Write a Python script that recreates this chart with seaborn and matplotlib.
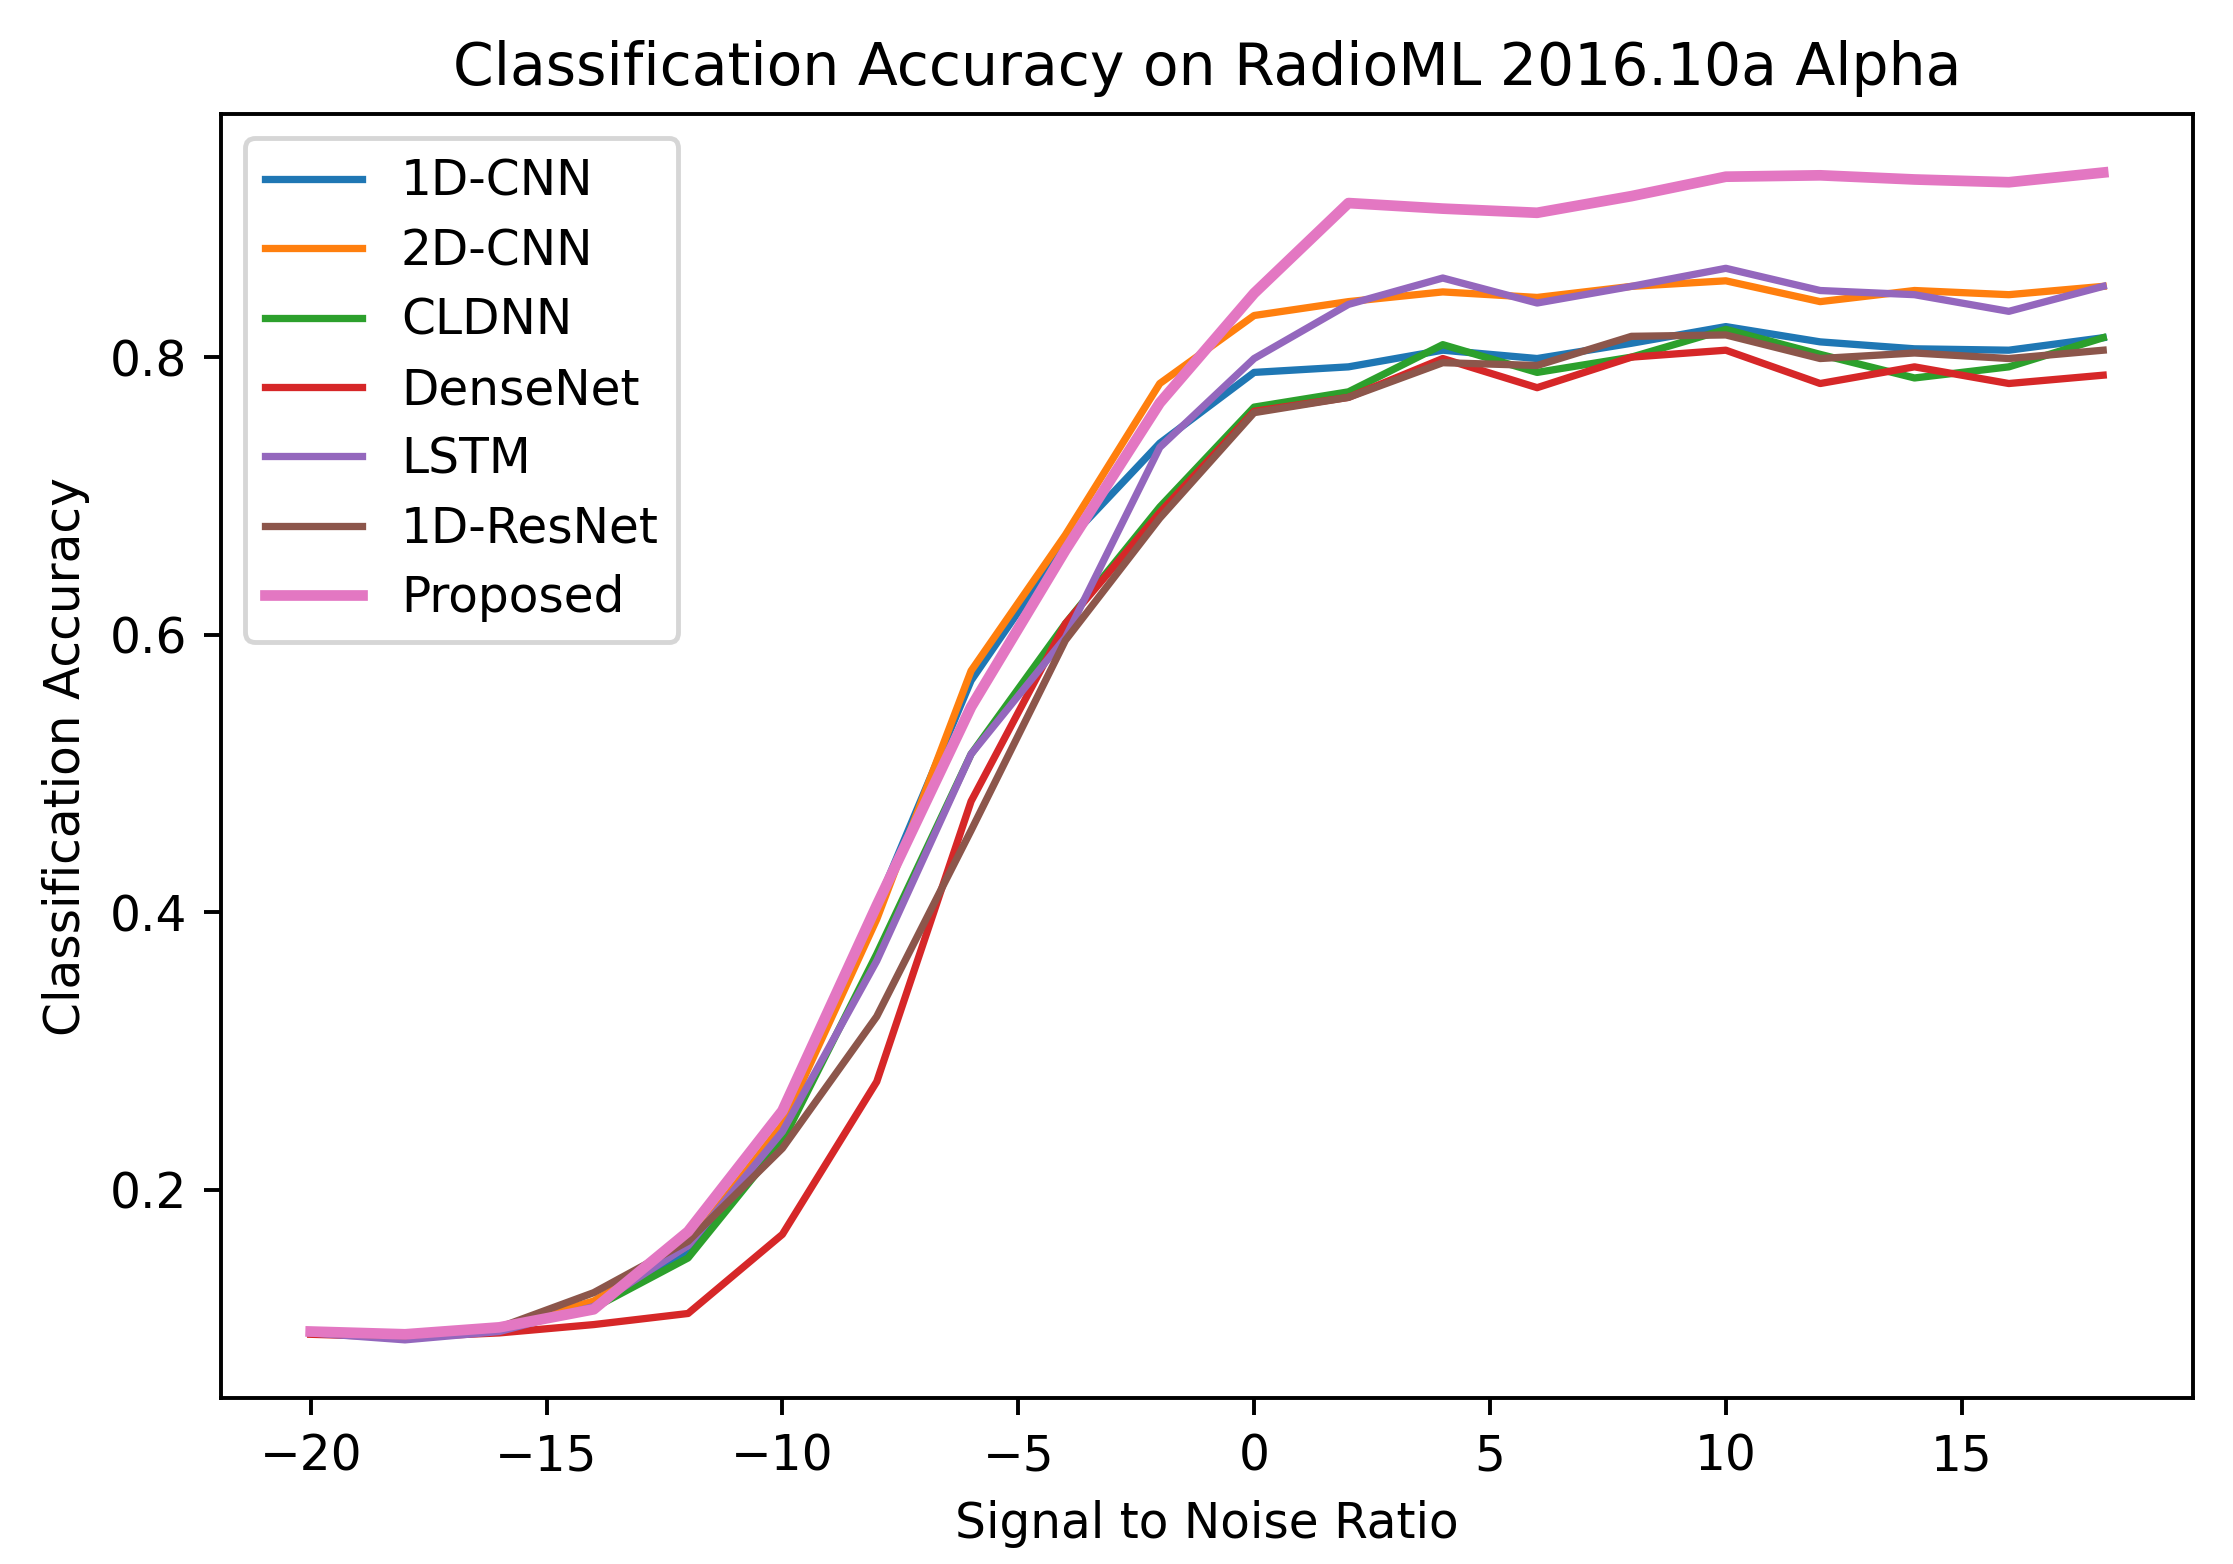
import matplotlib
matplotlib.use('Agg')
import matplotlib.pyplot as plt
import seaborn as sns

# SNR values (dB)
snr = [-20, -18, -16, -14, -12, -10, -8, -6, -4, -2, 0, 2, 4, 6, 8, 10, 12, 14, 16, 18]

# Accuracy per model
cnn_1d = [0.097, 0.095, 0.099, 0.117, 0.156, 0.245, 0.405, 0.567, 0.666, 0.738,
          0.789, 0.793, 0.805, 0.799, 0.810, 0.822, 0.811, 0.806, 0.805, 0.814]
cnn_2d = [0.097, 0.095, 0.100, 0.120, 0.160, 0.247, 0.395, 0.574, 0.672, 0.781,
          0.830, 0.840, 0.847, 0.843, 0.851, 0.855, 0.840, 0.848, 0.845, 0.851]
cldnn = [0.097, 0.095, 0.099, 0.115, 0.151, 0.235, 0.370, 0.514, 0.608, 0.692,
         0.764, 0.775, 0.809, 0.789, 0.800, 0.820, 0.802, 0.785, 0.793, 0.814]
densenet = [0.096, 0.094, 0.097, 0.103, 0.111, 0.168, 0.278, 0.480, 0.608, 0.688,
            0.761, 0.771, 0.799, 0.778, 0.800, 0.805, 0.781, 0.793, 0.781, 0.787]
lstm = [0.097, 0.092, 0.098, 0.116, 0.160, 0.242, 0.365, 0.514, 0.598, 0.735,
        0.799, 0.838, 0.857, 0.839, 0.851, 0.864, 0.848, 0.845, 0.833, 0.851]
resnet_1d = [0.097, 0.095, 0.101, 0.126, 0.163, 0.230, 0.325, 0.459, 0.596, 0.684,
             0.760, 0.771, 0.796, 0.794, 0.815, 0.816, 0.799, 0.803, 0.799, 0.805]
proposed = [0.098, 0.096, 0.101, 0.114, 0.170, 0.257, 0.405, 0.548, 0.661, 0.767,
            0.846, 0.911, 0.907, 0.904, 0.916, 0.930, 0.931, 0.928, 0.926, 0.933]

models = ['1D-CNN', '2D-CNN', 'CLDNN', 'DenseNet', 'LSTM', '1D-ResNet', 'Proposed']
series = [cnn_1d, cnn_2d, cldnn, densenet, lstm, resnet_1d, proposed]
colors = sns.color_palette('tab10', 7)

fig, ax = plt.subplots(figsize=(2233 / 350, 1564 / 350), dpi=350)

for name, vals, c in zip(models, series, colors):
    lw = 2.2 if name == 'Proposed' else 1.5
    sns.lineplot(x=snr, y=vals, ax=ax, label=name, color=c, linewidth=lw)

ax.set_title('Classification Accuracy on RadioML 2016.10a Alpha')
ax.set_xlabel('Signal to Noise Ratio')
ax.set_ylabel('Classification Accuracy')
ax.legend(loc='upper left', labelspacing=0.44)

fig.subplots_adjust(left=0.099, right=0.982, bottom=0.106, top=0.927)
fig.savefig('out.png', dpi=350)
